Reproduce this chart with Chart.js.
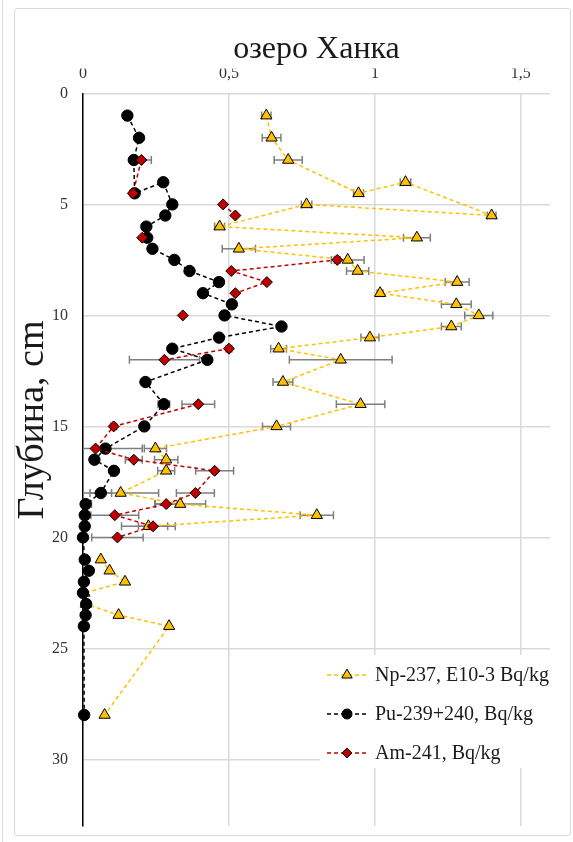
<!DOCTYPE html>
<html>
<head>
<meta charset="utf-8">
<script src="https://cdn.jsdelivr.net/npm/chart.js@4.4.0/dist/chart.umd.min.js"></script>
<style>
  html, body { margin: 0; padding: 0; background: #fff; }
  body { width: 573px; height: 842px; position: relative; overflow: hidden; }
  #edge { position: absolute; left: 2px; top: 0; width: 1px; height: 842px; background: #d9d9d9; }
  #frame { position: absolute; left: 14px; top: 8px; width: 555px; height: 826px; border: 1px solid #d9d9d9; border-radius: 3px; }
  canvas { display: block; }
</style>
</head>
<body>
<div id="edge"></div>
<div id="frame"><canvas id="chart" width="555" height="826"></canvas></div>
<script>
  // depth (cm) in the order the points are joined, value, x error (same units)
  var npDepth = [1, 2, 3, 4.5, 4, 5.5, 5, 6, 6.5, 7, 7.5, 8, 8.5, 9, 9.5, 10, 10.5, 11, 11.5, 12, 13, 14, 15, 16, 16.5, 17, 18, 18.5, 19, 19.5, 20, 21, 21.5, 22, 22.5, 23, 23.5, 24, 28];
  var npValue = [0.628, 0.646, 0.703, 0.944, 1.105, 1.40, 0.766, 0.468, 1.144, 0.534, 0.907, 0.941, 1.282, 1.018, 1.279, 1.356, 1.262, 0.983, 0.67, 0.883, 0.685, 0.951, 0.663, 0.248, 0.285, 0.285, 0.129, 0.333, 0.801, 0.224, null, 0.061, 0.091, 0.144, 0.005, 0.01, 0.122, 0.295, 0.074];
  var npError = [0.016, 0.032, 0.048, 0.017, 0.018, 0.015, 0.018, 0.017, 0.046, 0.057, 0.056, 0.038, 0.041, 0.01, 0.051, 0.048, 0.034, 0.031, 0.027, 0.176, 0.034, 0.083, 0.048, 0.038, 0.04, 0.029, 0.13, 0.087, 0.057, 0.092, 0, 0, 0, 0, 0, 0, 0, 0, 0];

  var puDepth = [1, 2, 3, 4.5, 4, 5, 5.5, 6, 6.5, 7, 7.5, 8, 8.5, 9, 9.5, 10, 10.5, 11, 11.5, 12, 13, 14, 15, 16, 16.5, 17, 18, 18.5, 19, 19.5, 20, 21, 21.5, 22, 22.5, 23, 23.5, 24, 28];
  var puValue = [0.152, 0.192, 0.174, 0.177, 0.275, 0.306, 0.282, 0.217, 0.22, 0.238, 0.313, 0.365, 0.466, 0.411, 0.51, 0.485, 0.68, 0.466, 0.306, 0.426, 0.214, 0.277, 0.21, 0.077, 0.039, 0.106, 0.061, 0.009, 0.006, 0.006, 0, 0.006, 0.02, 0.003, 0, 0.011, 0.009, 0.003, 0.004];
  var puError = [0, 0, 0, 0, 0, 0, 0, 0, 0, 0, 0, 0, 0, 0, 0, 0, 0, 0, 0, 0, 0, 0.02, 0, 0, 0, 0, 0.037, 0.02, 0, 0, 0, 0, 0, 0, 0, 0, 0, 0, 0];

  var amDepth = [3, 4.5, 4.75, 5, 5.5, 6, 6.5, 7, 7.5, 8, 8.5, 9, 9.5, 10, 11, 11.5, 12, 13, 14, 15, 16, 16.5, 17, 18, 18.5, 19, 19.5, 20];
  var amValue = [0.2, 0.171, null, 0.48, 0.522, null, 0.203, null, 0.871, 0.508, 0.63, 0.522, null, 0.342, null, 0.5, 0.279, null, 0.395, 0.105, 0.043, 0.174, 0.451, 0.385, 0.285, 0.109, 0.24, 0.118];
  var amError = [0.034, 0, 0, 0, 0, 0, 0, 0, 0.01, 0, 0, 0, 0, 0, 0, 0.01, 0.12, 0, 0.056, 0.01, 0.16, 0.029, 0.065, 0.065, 0.037, 0.082, 0.05, 0.088];

  var xTicks = [0, 0.5, 1, 1.5];
  var yTicks = [0, 5, 10, 15, 20, 25, 30];

  function points(depth, value) {
    return depth.map(function (d, i) { return { x: value[i], y: d }; });
  }

  var serif = '"Liberation Serif", "Times New Roman", serif';
  var errors = [npError, puError, amError];

  var errorBars = {
    id: "errorBars",
    beforeDatasetsDraw: function (chart) {
      var ctx = chart.ctx, xs = chart.scales.x, ys = chart.scales.y, area = chart.chartArea;
      ctx.save();
      ctx.beginPath();
      ctx.rect(area.left, area.top - 10, area.right - area.left, area.bottom - area.top + 10);
      ctx.clip();
      ctx.strokeStyle = "#7f7f7f";
      ctx.lineWidth = 1.5;
      chart.data.datasets.forEach(function (ds, i) {
        ds.data.forEach(function (p, j) {
          var e = errors[i][j];
          if (!e || p.x === null) return;
          var x1 = xs.getPixelForValue(p.x - e), x2 = xs.getPixelForValue(p.x + e), y = ys.getPixelForValue(p.y);
          ctx.beginPath();
          ctx.moveTo(x1, y); ctx.lineTo(x2, y);
          ctx.moveTo(x1, y - 4); ctx.lineTo(x1, y + 4);
          ctx.moveTo(x2, y - 4); ctx.lineTo(x2, y + 4);
          ctx.stroke();
        });
      });
      ctx.restore();
    }
  };

  function marker(ctx, style, x, y, r) {
    ctx.beginPath();
    if (style === "triangle") {
      ctx.moveTo(x, y - r);
      ctx.lineTo(x + r * 0.866, y + r * 0.5);
      ctx.lineTo(x - r * 0.866, y + r * 0.5);
      ctx.closePath();
    } else if (style === "rectRot") {
      ctx.moveTo(x, y - r); ctx.lineTo(x + r, y); ctx.lineTo(x, y + r); ctx.lineTo(x - r, y);
      ctx.closePath();
    } else {
      ctx.arc(x, y, r, 0, Math.PI * 2);
    }
    ctx.fill();
    ctx.stroke();
  }

  var boxLegend = {
    id: "boxLegend",
    afterDraw: function (chart) {
      var ctx = chart.ctx;
      ctx.save();
      ctx.fillStyle = "#fff";
      ctx.fillRect(305, 646, 231, 113);
      chart.data.datasets.forEach(function (ds, i) {
        var y = 666 + i * 39;
        ctx.strokeStyle = ds.borderColor;
        ctx.lineWidth = 1.5;
        ctx.setLineDash([4, 3]);
        ctx.beginPath();
        ctx.moveTo(312, y); ctx.lineTo(351, y);
        ctx.stroke();
        ctx.setLineDash([]);
        ctx.fillStyle = ds.pointBackgroundColor;
        ctx.strokeStyle = "#000";
        ctx.lineWidth = 1;
        marker(ctx, ds.pointStyle, 332, y, ds.pointStyle === "triangle" ? 6 : 5);
        ctx.fillStyle = "#1a1a1a";
        ctx.font = "20px " + serif;
        ctx.textBaseline = "middle";
        ctx.textAlign = "left";
        ctx.fillText(ds.label, 360, y + 1);
      });
      // depth axis title
      ctx.translate(18, 411);
      ctx.rotate(-Math.PI / 2);
      ctx.fillStyle = "#1a1a1a";
      ctx.font = "38px " + serif;
      ctx.textAlign = "center";
      ctx.textBaseline = "middle";
      ctx.fillText("Глубина, cm", 0, 0);
      ctx.restore();
    }
  };

  var common = { showLine: true, borderWidth: 1.5, borderDash: [4, 3], pointBorderColor: "#000", pointBorderWidth: 1, clip: false };

  var config = {
    type: "scatter",
    data: {
      datasets: [
        Object.assign({}, common, {
          label: "Np-237, E10-3 Bq/kg", data: points(npDepth, npValue), order: 3,
          borderColor: "#FFC000", pointBackgroundColor: "#FFC000", pointStyle: "triangle", pointRadius: 6.5
        }),
        Object.assign({}, common, {
          label: "Pu-239+240, Bq/kg", data: points(puDepth, puValue), order: 2,
          borderColor: "#000000", pointBackgroundColor: "#000000", pointStyle: "circle", pointRadius: 5.7
        }),
        Object.assign({}, common, {
          label: "Am-241, Bq/kg", data: points(amDepth, amValue), order: 1,
          borderColor: "#C00000", pointBackgroundColor: "#C00000", pointStyle: "rectRot", pointRadius: 5.5
        })
      ]
    },
    options: {
      responsive: false,
      maintainAspectRatio: false,
      animation: false,
      events: [],
      layout: { padding: { top: 0, right: 20, bottom: 9, left: 0 } },
      plugins: {
        legend: { display: false },
        tooltip: { enabled: false },
        title: {
          display: true, text: "озеро Ханка", fullSize: false, color: "#1a1a1a",
          font: { family: serif, size: 32, weight: "normal" }, padding: { top: 21, bottom: 0 }
        }
      },
      scales: {
        x: {
          type: "linear", position: "top", min: 0, max: 1.6,
          afterFit: function (s) { s.height = 25; s.paddingLeft = 0; s.paddingRight = 0; },
          afterBuildTicks: function (s) { s.ticks = xTicks.map(function (v) { return { value: v }; }); },
          ticks: {
            padding: 10, color: "#333", font: { family: serif, size: 16 },
            callback: function (v) { return String(v).replace(".", ","); }
          },
          grid: { color: "#d9d9d9", lineWidth: 1.5, drawTicks: false },
          border: { display: false }
        },
        y: {
          type: "linear", reverse: true, min: 0, max: 33,
          afterFit: function (s) { s.width = 68; s.paddingTop = 0; s.paddingBottom = 0; },
          afterBuildTicks: function (s) { s.ticks = yTicks.map(function (v) { return { value: v }; }); },
          ticks: { padding: 15, color: "#333", font: { family: serif, size: 16 } },
          grid: { color: "#d9d9d9", lineWidth: 1.5, drawTicks: false },
          border: { color: "#000", width: 1.5 }
        }
      }
    },
    plugins: [errorBars, boxLegend]
  };

  var myChart = new Chart(document.getElementById("chart"), config);
</script>
</body>
</html>
